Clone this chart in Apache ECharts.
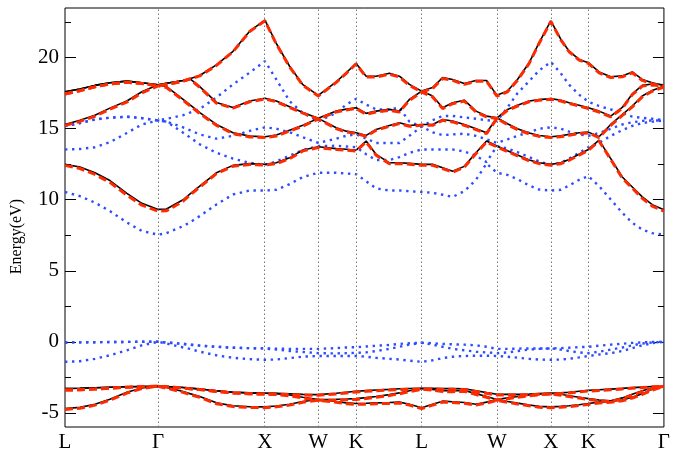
<!DOCTYPE html>
<html>
<head>
<meta charset="utf-8">
<script src="https://cdn.jsdelivr.net/npm/echarts@6/dist/echarts.min.js"></script>
<style>
html,body{margin:0;padding:0;background:#fff;}
#chart{width:673px;height:453px;}
</style>
</head>
<body>
<div id="chart"></div>
<script>
// High-symmetry points along the k-path (path-length units)
const symPos = [0, 0.933, 2.003, 2.537, 2.917, 3.573, 4.327, 4.867, 5.243, 6.0];
const symLabels = ['L', 'Γ', 'X', 'W', 'K', 'L', 'W', 'X', 'K', 'Γ'];

// k sample points shared by every band
const kPath = [0, 0.15, 0.30, 0.45, 0.62, 0.77, 0.933,
  1.017, 1.183, 1.25, 1.35, 1.517, 1.683, 1.85, 2.003,
  2.117, 2.25, 2.383, 2.537,
  2.717, 2.817, 2.917,
  3.017, 3.117, 3.25, 3.35, 3.45, 3.573,
  3.683, 3.783, 3.883, 4.0, 4.117, 4.223, 4.327,
  4.433, 4.533, 4.65, 4.75, 4.867,
  4.967, 5.05, 5.15, 5.243,
  5.35, 5.467, 5.583, 5.683, 5.783, 5.883, 6.0];

const yMajor = [-5, 0, 5, 10, 15, 20];
const yMinor = [-2.5, 2.5, 7.5, 12.5, 17.5, 22.5];

// Solid black bands (eV)
const blackC4 = [17.60, 17.80, 18.05, 18.24, 18.35, 18.24, 18.10,
  18.20, 18.40, 18.52, 18.75, 19.50, 20.45, 21.87, 22.65,
  21.00, 19.40, 18.10, 17.35,
  18.30, 18.94, 19.60,
  18.70, 18.70, 18.90, 18.70, 18.12, 17.65,
  17.90, 18.60, 18.47, 18.19, 18.40, 18.40, 17.35,
  17.65, 18.47, 19.65, 21.06, 22.60,
  21.30, 20.46, 19.88, 19.65,
  19.00, 18.66, 18.72, 19.00, 18.47, 18.24, 18.05];
const blackC3 = [17.60, 17.80, 18.05, 18.24, 18.35, 18.24, 18.10,
  18.20, 18.40, 18.52, 17.96, 16.85, 16.50, 16.95, 17.15,
  16.95, 16.55, 16.15, 15.73,
  16.24, 16.38, 16.48,
  16.08, 16.24, 16.36, 16.24, 17.06, 17.65,
  17.30, 16.48, 16.83, 17.01, 16.24, 15.89, 15.77,
  16.35, 16.65, 16.95, 17.05, 17.12,
  17.00, 16.83, 16.65, 16.48,
  16.24, 15.89, 16.50, 17.45, 18.05, 18.15, 18.10];
const blackC2 = [15.30, 15.60, 15.95, 16.45, 16.95, 17.60, 18.10,
  17.96, 17.06, 16.70, 16.13, 15.30, 14.72, 14.48, 14.44,
  14.55, 14.90, 15.25, 15.73,
  15.07, 14.83, 14.72,
  14.53, 14.95, 15.23, 15.42, 15.23, 15.30,
  15.30, 15.65, 15.54, 15.30, 15.00, 14.72, 15.77,
  15.35, 15.00, 14.70, 14.52, 14.44,
  14.50, 14.60, 14.72, 14.76,
  14.44, 15.30, 16.00, 16.60, 17.30, 17.70, 18.00];
const blackC1 = [12.49, 12.30, 11.90, 11.35, 10.45, 9.75, 9.32,
  9.35, 10.00, 10.40, 10.96, 11.90, 12.42, 12.54, 12.50,
  12.60, 12.95, 13.50, 13.73,
  13.60, 13.55, 13.49,
  14.13, 13.19, 12.60, 12.60, 12.56, 12.49,
  12.49, 12.25, 12.00, 12.35, 13.31, 14.13, 13.78,
  13.45, 13.15, 12.80, 12.60, 12.49,
  12.60, 12.84, 13.20, 13.54,
  14.20, 12.90, 11.60, 10.90, 10.20, 9.65, 9.30];
const blackV3 = [-3.29, -3.27, -3.24, -3.20, -3.17, -3.15, -3.13,
  -3.15, -3.22, -3.26, -3.32, -3.45, -3.55, -3.60, -3.62,
  -3.63, -3.66, -3.70, -3.72,
  -3.62, -3.55, -3.48,
  -3.44, -3.40, -3.35, -3.31, -3.29, -3.27,
  -3.28, -3.30, -3.30, -3.31, -3.45, -3.58, -3.70,
  -3.70, -3.70, -3.68, -3.65, -3.62,
  -3.60, -3.55, -3.48, -3.42,
  -3.38, -3.33, -3.28, -3.23, -3.19, -3.15, -3.13];
const blackV2 = [-3.29, -3.27, -3.24, -3.20, -3.17, -3.15, -3.13,
  -3.15, -3.22, -3.26, -3.32, -3.45, -3.55, -3.60, -3.62,
  -3.65, -3.75, -3.90, -4.06,
  -4.05, -4.03, -4.00,
  -3.93, -3.85, -3.72, -3.60, -3.45, -3.29,
  -3.35, -3.45, -3.45, -3.43, -3.65, -3.85, -4.06,
  -3.95, -3.85, -3.75, -3.67, -3.62,
  -3.70, -3.80, -3.90, -4.00,
  -4.10, -4.15, -3.95, -3.70, -3.45, -3.25, -3.13];
const blackV1 = [-4.70, -4.62, -4.40, -4.05, -3.55, -3.25, -3.13,
  -3.22, -3.50, -3.65, -3.85, -4.30, -4.50, -4.57, -4.58,
  -4.52, -4.40, -4.20, -4.06,
  -4.20, -4.30, -4.35,
  -4.33, -4.30, -4.28, -4.25, -4.40, -4.65,
  -4.40, -4.18, -4.22, -4.27, -4.40, -4.25, -4.06,
  -4.20, -4.32, -4.45, -4.55, -4.58,
  -4.55, -4.50, -4.43, -4.35,
  -4.25, -4.20, -4.10, -3.90, -3.65, -3.35, -3.13];

// Dashed red bands (eV)
const redC4 = [17.45, 17.68, 17.95, 18.15, 18.27, 18.18, 18.02,
  18.12, 18.35, 18.50, 18.72, 19.46, 20.42, 21.84, 22.60,
  20.96, 19.36, 18.06, 17.30,
  18.26, 18.90, 19.56,
  18.64, 18.64, 18.84, 18.64, 18.06, 17.58,
  17.84, 18.54, 18.40, 18.12, 18.34, 18.34, 17.30,
  17.60, 18.42, 19.60, 21.02, 22.55,
  21.26, 20.42, 19.84, 19.60,
  18.94, 18.60, 18.66, 18.94, 18.40, 18.16, 17.98];
const redC3 = [17.45, 17.68, 17.95, 18.15, 18.27, 18.18, 18.02,
  18.12, 18.35, 18.50, 17.92, 16.80, 16.45, 16.90, 17.10,
  16.90, 16.50, 16.10, 15.68,
  16.18, 16.32, 16.42,
  16.02, 16.18, 16.30, 16.18, 17.00, 17.58,
  17.24, 16.42, 16.76, 16.95, 16.18, 15.84, 15.72,
  16.30, 16.60, 16.90, 17.00, 17.07,
  16.95, 16.78, 16.60, 16.42,
  16.18, 15.84, 16.44, 17.40, 18.00, 18.08, 18.02];
const redC2 = [15.22, 15.52, 15.88, 16.38, 16.88, 17.52, 18.02,
  17.90, 17.00, 16.64, 16.07, 15.24, 14.66, 14.42, 14.38,
  14.49, 14.84, 15.19, 15.68,
  15.01, 14.77, 14.66,
  14.47, 14.89, 15.17, 15.36, 15.17, 15.24,
  15.24, 15.59, 15.48, 15.24, 14.94, 14.66, 15.72,
  15.29, 14.94, 14.64, 14.46, 14.38,
  14.44, 14.54, 14.66, 14.70,
  14.38, 15.24, 15.94, 16.54, 17.24, 17.64, 17.94];
const redC1 = [12.42, 12.20, 11.78, 11.22, 10.32, 9.62, 9.20,
  9.22, 9.90, 10.32, 10.90, 11.84, 12.36, 12.48, 12.44,
  12.54, 12.89, 13.44, 13.67,
  13.54, 13.49, 13.43,
  14.07, 13.13, 12.54, 12.54, 12.50, 12.43,
  12.43, 12.19, 11.94, 12.29, 13.25, 14.07, 13.72,
  13.39, 13.09, 12.74, 12.54, 12.43,
  12.54, 12.78, 13.14, 13.48,
  14.14, 12.84, 11.52, 10.82, 10.10, 9.55, 9.20];
const redV3 = [-3.40, -3.38, -3.33, -3.27, -3.20, -3.16, -3.13,
  -3.17, -3.25, -3.30, -3.36, -3.50, -3.60, -3.66, -3.68,
  -3.69, -3.72, -3.75, -3.77,
  -3.67, -3.60, -3.53,
  -3.49, -3.45, -3.40, -3.36, -3.34, -3.32,
  -3.33, -3.35, -3.35, -3.36, -3.50, -3.63, -3.75,
  -3.75, -3.75, -3.73, -3.70, -3.68,
  -3.65, -3.60, -3.53, -3.47,
  -3.43, -3.38, -3.32, -3.27, -3.22, -3.17, -3.13];
const redV2 = [-3.40, -3.38, -3.33, -3.27, -3.20, -3.16, -3.13,
  -3.17, -3.25, -3.30, -3.36, -3.50, -3.60, -3.66, -3.68,
  -3.71, -3.81, -3.96, -4.12,
  -4.11, -4.09, -4.06,
  -3.99, -3.91, -3.78, -3.66, -3.51, -3.34,
  -3.41, -3.51, -3.51, -3.49, -3.71, -3.91, -4.12,
  -4.01, -3.91, -3.81, -3.73, -3.68,
  -3.76, -3.86, -3.96, -4.06,
  -4.16, -4.21, -4.01, -3.76, -3.51, -3.30, -3.13];
const redV1 = [-4.76, -4.68, -4.46, -4.11, -3.61, -3.29, -3.13,
  -3.27, -3.56, -3.71, -3.91, -4.36, -4.56, -4.63, -4.64,
  -4.58, -4.46, -4.26, -4.12,
  -4.26, -4.36, -4.41,
  -4.39, -4.36, -4.34, -4.31, -4.46, -4.71,
  -4.46, -4.24, -4.28, -4.33, -4.46, -4.31, -4.12,
  -4.26, -4.38, -4.51, -4.61, -4.64,
  -4.61, -4.56, -4.49, -4.41,
  -4.31, -4.26, -4.16, -3.96, -3.71, -3.41, -3.13];

// Dotted blue bands (eV)
const blueC4 = [15.18, 15.40, 15.65, 15.78, 15.84, 15.75, 15.58,
  15.70, 15.95, 16.13, 16.40, 17.20, 18.12, 18.95, 19.76,
  18.47, 16.94, 16.10, 15.54,
  16.10, 16.70, 17.10,
  16.70, 16.36, 16.36, 16.48, 15.50, 15.15,
  15.60, 15.90, 15.90, 15.80, 15.70, 15.60, 15.54,
  16.50, 17.50, 18.35, 19.10, 19.70,
  18.90, 18.10, 17.40, 16.90,
  16.60, 16.36, 16.10, 15.85, 15.77, 15.70, 15.60];
const blueC3 = [15.18, 15.40, 15.65, 15.78, 15.84, 15.75, 15.58,
  15.50, 15.10, 14.90, 14.60, 14.30, 14.50, 14.85, 15.10,
  15.00, 14.75, 14.40, 14.00,
  14.30, 14.50, 14.60,
  14.30, 14.00, 14.00, 14.00, 14.50, 15.15,
  14.75, 14.55, 14.60, 14.65, 14.50, 14.25, 14.00,
  14.25, 14.50, 14.75, 15.00, 15.10,
  15.00, 14.80, 14.60, 14.50,
  14.70, 15.00, 15.30, 15.45, 15.55, 15.58, 15.58];
const blueC2 = [13.54, 13.57, 13.70, 14.05, 14.70, 15.30, 15.58,
  15.50, 14.72, 14.40, 13.90, 13.31, 12.89, 12.60, 12.45,
  12.70, 13.10, 13.50, 13.78,
  13.80, 13.75, 13.70,
  13.20, 12.80, 12.80, 13.00, 13.30, 13.54,
  13.54, 13.54, 13.54, 13.40, 13.10, 12.65, 13.78,
  13.60, 13.35, 13.00, 12.70, 12.45,
  12.60, 12.90, 13.30, 13.70,
  14.00, 14.50, 14.90, 15.20, 15.40, 15.50, 15.58];
const blueC1 = [10.55, 10.25, 9.80, 9.20, 8.40, 7.80, 7.54,
  7.65, 8.14, 8.40, 8.85, 9.67, 10.37, 10.65, 10.65,
  10.70, 11.10, 11.60, 11.90,
  11.90, 11.85, 11.80,
  11.30, 10.80, 10.65, 10.65, 10.60, 10.55,
  10.49, 10.35, 10.20, 10.60, 11.40, 12.55, 11.90,
  11.75, 11.45, 11.00, 10.72, 10.65,
  10.70, 11.00, 11.40, 11.66,
  10.96, 10.02, 9.08, 8.38, 7.90, 7.65, 7.54];
const blueV3 = [-0.05, -0.04, -0.03, -0.02, -0.01, 0.00, 0.00,
  -0.05, -0.15, -0.20, -0.27, -0.35, -0.42, -0.45, -0.47,
  -0.48, -0.50, -0.50, -0.50,
  -0.45, -0.40, -0.38,
  -0.33, -0.28, -0.22, -0.15, -0.10, -0.07,
  -0.10, -0.15, -0.18, -0.20, -0.25, -0.35, -0.50,
  -0.50, -0.48, -0.47, -0.47, -0.47,
  -0.45, -0.42, -0.38, -0.35,
  -0.28, -0.20, -0.14, -0.08, -0.04, -0.02, 0.00];
const blueV2 = [-0.05, -0.04, -0.03, -0.02, -0.01, 0.00, 0.00,
  -0.05, -0.15, -0.20, -0.27, -0.35, -0.42, -0.45, -0.47,
  -0.55, -0.65, -0.72, -0.80,
  -0.82, -0.80, -0.78,
  -0.75, -0.65, -0.50, -0.35, -0.20, -0.07,
  -0.20, -0.35, -0.50, -0.60, -0.70, -0.75, -0.80,
  -0.75, -0.65, -0.55, -0.50, -0.47,
  -0.55, -0.65, -0.75, -0.80,
  -0.70, -0.55, -0.40, -0.25, -0.12, -0.05, 0.00];
const blueV1 = [-1.41, -1.37, -1.20, -0.95, -0.60, -0.25, 0.00,
  -0.12, -0.40, -0.50, -0.70, -0.95, -1.13, -1.22, -1.27,
  -1.25, -1.15, -1.05, -1.00,
  -1.00, -1.00, -1.00,
  -1.05, -1.13, -1.20, -1.25, -1.33, -1.41,
  -1.30, -1.15, -1.05, -1.00, -0.98, -0.98, -1.00,
  -1.05, -1.12, -1.20, -1.25, -1.27,
  -1.25, -1.20, -1.10, -1.00,
  -0.90, -0.80, -0.65, -0.45, -0.25, -0.10, 0.00];

const blackBands = [blackC1, blackC2, blackC3, blackC4, blackV1, blackV2, blackV3];
const redBands = [redC1, redC2, redC3, redC4, redV1, redV2, redV3];
const blueBands = [blueC1, blueC2, blueC3, blueC4, blueV1, blueV2, blueV3];

const serif = 'Liberation Serif';

function bandSeries(bands, name, lineStyle, z) {
  return bands.map(vals => ({
    name: name,
    type: 'line',
    data: kPath.map((k, i) => [k, vals[i]]),
    showSymbol: false,
    symbol: 'none',
    smooth: false,
    silent: true,
    z: z,
    lineStyle: lineStyle
  }));
}

const series = [].concat(
  bandSeries(blueBands, 'blue', { color: '#2d4dff', width: 2.4, type: [2.4, 4.6], cap: 'butt' }, 3),
  bandSeries(blackBands, 'black', { color: '#000000', width: 1.6, type: 'solid' }, 4),
  bandSeries(redBands, 'red', { color: '#ff2a00', width: 3, type: [8, 4], cap: 'butt' }, 5)
);

// Dotted vertical guides at the interior high-symmetry points
series.unshift({
  type: 'line',
  data: [],
  silent: true,
  z: 2,
  markLine: {
    silent: true,
    symbol: 'none',
    animation: false,
    label: { show: false },
    lineStyle: { color: '#777', width: 1, type: [1.5, 2.5] },
    data: symPos.slice(1, -1).map(x => ({ xAxis: x }))
  }
});

function yAxisDef(position, ticks, len, withLabels) {
  return {
    type: 'value',
    position: position,
    min: -6,
    max: 23.5,
    axisLine: { show: false },
    splitLine: { show: false },
    axisTick: {
      show: true, inside: true, length: len,
      customValues: ticks,
      lineStyle: { color: '#000', width: 1 }
    },
    axisLabel: withLabels ? {
      show: true, customValues: ticks, margin: 6,
      color: '#000', fontSize: 21, fontFamily: serif
    } : { show: false }
  };
}

const chart = echarts.init(document.getElementById('chart'), null, { renderer: 'canvas' });
chart.setOption({
  animation: false,
  backgroundColor: '#ffffff',
  grid: {
    left: 65, right: 8, top: 8, bottom: 26,
    show: true, borderColor: '#000', borderWidth: 1, backgroundColor: 'transparent'
  },
  xAxis: {
    type: 'value',
    min: 0,
    max: 6,
    axisLine: { show: false },
    axisTick: { show: false },
    splitLine: { show: false },
    axisLabel: {
      show: true,
      customValues: symPos,
      formatter: v => {
        const i = symPos.findIndex(p => Math.abs(p - v) < 1e-6);
        return i >= 0 ? symLabels[i] : '';
      },
      margin: 5,
      color: '#000', fontSize: 21, fontFamily: serif
    }
  },
  yAxis: [
    yAxisDef('left', yMajor, 11, true),
    yAxisDef('left', yMinor, 6, false),
    yAxisDef('right', yMajor, 11, false),
    yAxisDef('right', yMinor, 6, false)
  ],
  graphic: [{
    type: 'text',
    left: 9,
    top: 199,
    rotation: Math.PI / 2,
    style: {
      text: 'Energy(eV)',
      fill: '#000',
      font: '16px "Liberation Serif"'
    }
  }],
  series: series
});
</script>
</body>
</html>
